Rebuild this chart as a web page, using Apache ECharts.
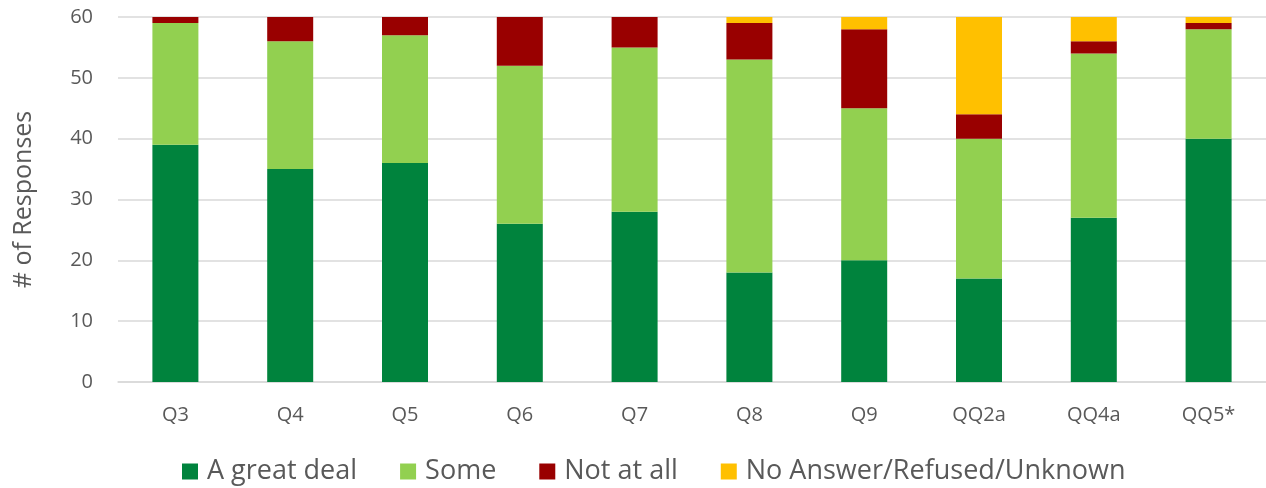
<!DOCTYPE html>
<html>
<head>
<meta charset="utf-8">
<script src="https://cdn.jsdelivr.net/npm/echarts@6/dist/echarts.min.js"></script>
<style>
  html, body { margin: 0; padding: 0; background: #fff; }
  #container { width: 1266px; height: 488px; }
</style>
</head>
<body>
<div id="container"></div>
<script>
let categories = ['Q3', 'Q4', 'Q5', 'Q6', 'Q7', 'Q8', 'Q9', 'QQ2a', 'QQ4a', 'QQ5*'];
let greatDeal = [39, 35, 36, 26, 28, 18, 20, 17, 27, 40];
let some = [20, 21, 21, 26, 27, 35, 25, 23, 27, 18];
let notAtAll = [1, 4, 3, 8, 5, 6, 13, 4, 2, 1];
let noAnswer = [0, 0, 0, 0, 0, 1, 2, 16, 4, 1];

let font = '"Open Sans", sans-serif';
let dom = document.getElementById('container');
let myChart = echarts.init(dom);

let seriesList = [
    { name: 'A great deal', data: greatDeal, color: '#00833D' },
    { name: 'Some', data: some, color: '#92D050' },
    { name: 'Not at all', data: notAtAll, color: '#990000' },
    { name: 'No Answer/Refused/Unknown', data: noAnswer, color: '#FFC000' }
];

let option = {
    animation: false,
    textStyle: { fontFamily: font },
    legend: {
        top: 453,
        left: 177,
        itemWidth: 16,
        itemHeight: 16,
        itemGap: 43,
        icon: 'rect',
        textStyle: { fontSize: 27, color: '#595959', fontFamily: font, padding: [0, 0, 0, 4] }
    },
    grid: {
        left: 118,
        width: 1160,
        top: 17,
        bottom: 106
    },
    xAxis: {
        type: 'category',
        data: categories,
        axisLine: { lineStyle: { color: '#d9d9d9', width: 1.5 } },
        axisTick: { show: false },
        axisLabel: { fontSize: 20, color: '#595959', margin: 23, fontFamily: font }
    },
    yAxis: {
        type: 'value',
        min: 0,
        max: 60,
        interval: 10,
        name: '# of Responses',
        nameLocation: 'middle',
        nameGap: 82,
        nameTextStyle: { fontSize: 25, color: '#595959', fontFamily: font },
        axisLine: { show: false },
        axisTick: { show: false },
        axisLabel: { fontSize: 20, color: '#595959', margin: 25, fontFamily: font },
        splitLine: { lineStyle: { color: '#d9d9d9', width: 1.5 } }
    },
    series: seriesList.map(s => ({
        name: s.name,
        type: 'bar',
        stack: 'total',
        barWidth: 46,
        data: s.data,
        itemStyle: { color: s.color }
    }))
};

myChart.setOption(option);
</script>
</body>
</html>
